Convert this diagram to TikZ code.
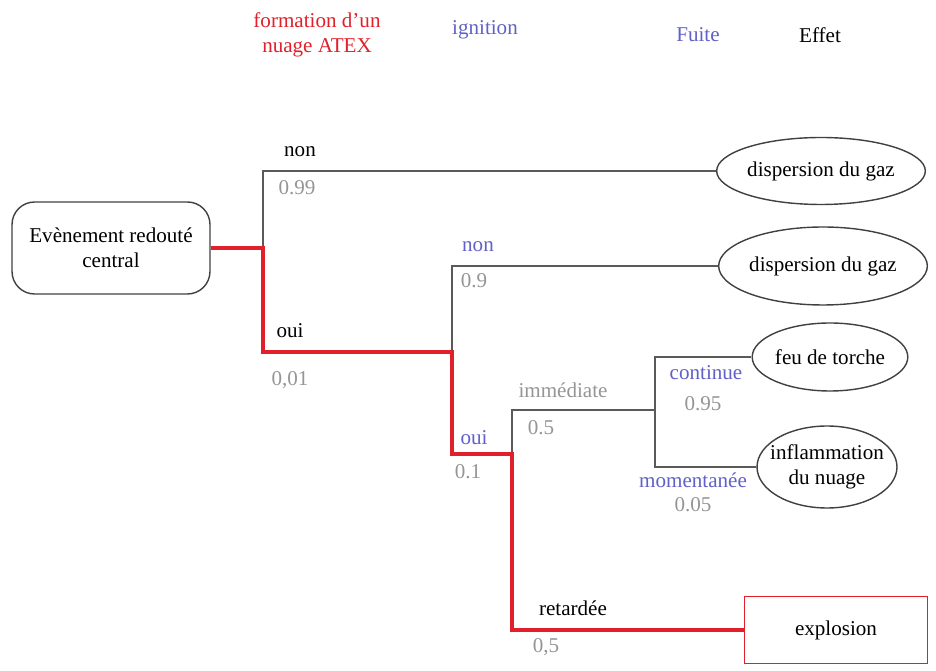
\documentclass[tikz,border=0pt]{standalone}
\usepackage{fontspec}
\setmainfont{Liberation Serif}
\usetikzlibrary{positioning, shapes.geometric}
\definecolor{RedBranch}{HTML}{E0202A}
\definecolor{BlueLabel}{HTML}{6060C8}
\definecolor{GrayLabel}{HTML}{959595}
\definecolor{LineGray}{HTML}{5A5A5A}

\begin{document}
\begin{tikzpicture}[x=0.02cm, y=-0.02cm,
    every node/.style={font=\fontsize{12}{14.5}\selectfont},
    effet/.style={draw=black!75, thick, ellipse, inner sep=0pt},
    branche/.style={draw=LineGray, line width=0.8pt},
    critique/.style={draw=RedBranch, line width=2.3pt},
    proba/.style={text=GrayLabel},
    choix/.style={text=BlueLabel}]
  \useasboundingbox (0,0) rectangle (936,671);
  % Column titles
  \node[text=RedBranch, align=center] (tatex) at (317,35) {formation d'un\\nuage ATEX};
  \node[choix] (tign) at (485,30) {ignition};
  \node[choix] (tfuite) at (698,35) {Fuite};
  \node (teffet) at (820,35) {Effet};
  % Central event and effects
  \node[draw=black!75, thick, rounded corners=0.45cm, minimum width=3.96cm,
    minimum height=1.84cm, align=center] (ere) at (111,248)
    {Evènement redouté\\central};
  \node[effet, minimum width=3.96cm, minimum height=1.34cm] (disp1) at (821,171) {dispersion du gaz};
  \node[effet, minimum width=4.06cm, minimum height=1.56cm] (disp2) at (823,266) {dispersion du gaz};
  \node[effet, minimum width=2.92cm, minimum height=1.36cm] (feu) at (830,357) {feu de torche};
  \node[effet, minimum width=2.8cm, minimum height=1.64cm,
    label={[align=center]center:inflammation\\du nuage}] (infl) at (827,467) {};
  \node[draw=RedBranch, thick, minimum width=3.66cm, minimum height=1.34cm] (explo) at (836,630) {explosion};
  % Branch points
  \coordinate (j1) at (263,248);
  \coordinate (j2) at (452,352);
  \coordinate (j3) at (512,454);
  \coordinate (j4) at (655,410);
  % Branches
  \draw[branche] (j1) |- (disp1.west);
  \draw[branche] (j2) |- (disp2.west);
  \draw[branche] (j3) |- (j4);
  \draw[branche] (j4) |- (feu.west);
  \draw[branche] (j4) |- (infl.west);
  % Critical path
  \draw[critique] (ere.east) -- (j1) |- (j2) |- (j3) |- (explo.west);
  % Branch labels
  \node (n1) at (300,152) {non};
  \node[proba] (p1) at (297,188) {0.99};
  \node (o1) at (290,331) {oui};
  \node[proba] (q1) at (290,380) {0,01};
  \node[choix] (n2) at (478,247) {non};
  \node[proba] (p2) at (474,281) {0.9};
  \node[choix] (o2) at (474,438) {oui};
  \node[proba] (q2) at (468,472) {0.1};
  \node[proba] (imm) at (563,390) {immédiate};
  \node[proba] (pimm) at (541,428) {0.5};
  \node[choix] (cont) at (706,373) {continue};
  \node[proba] (pcont) at (703,404) {0.95};
  \node[choix] (mom) at (693,480) {momentanée};
  \node[proba] (pmom) at (693,505) {0.05};
  \node (ret) at (573,608) {retardée};
  \node[proba] (pret) at (546,647) {0,5};
\end{tikzpicture}
\end{document}
